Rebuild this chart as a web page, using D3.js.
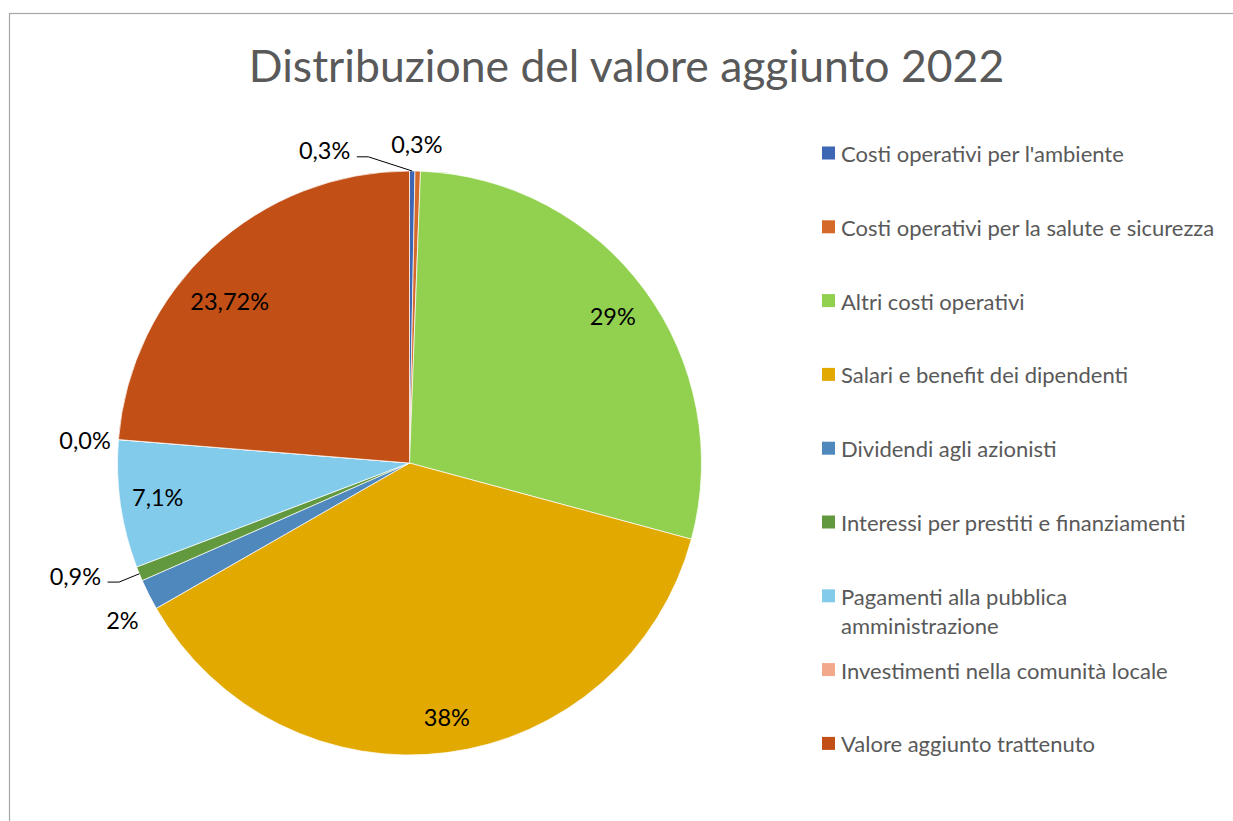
<!DOCTYPE html>
<html>
<head>
<meta charset="utf-8">
<script src="https://cdn.jsdelivr.net/npm/d3@7"></script>
<style>
  body { margin: 0; background: #fff; }
  svg { display: block; }
</style>
</head>
<body>
<div id="canvas"></div>
<script>
// slices, clockwise from 12 o'clock
const categories = [
  "Costi operativi per l'ambiente",
  'Costi operativi per la salute e sicurezza',
  'Altri costi operativi',
  'Salari e benefit dei dipendenti',
  'Dividendi agli azionisti',
  'Interessi per prestiti e finanziamenti',
  'Pagamenti alla pubblica amministrazione',
  'Investimenti nella comunità locale',
  'Valore aggiunto trattenuto'
];
const values = [0.3, 0.3, 28.6, 37.5, 1.7, 0.8, 7.07, 0, 23.72];
const valueLabels = ['0,3%', '0,3%', '29%', '38%', '2%', '0,9%', '7,1%', '0,0%', '23,72%'];
const colors = ['#3d66b5', '#d5692a', '#92d050', '#e2a900', '#4f88bd', '#62993e', '#83cbeb', '#f2a88a', '#c14f16'];

const W = 1233, H = 821;
const cx = 409.5, cy = 463, R = 292;
const font = 'Lato, Calibri, Carlito, sans-serif';

// where each value label sits: radius factor, angle shift (deg), leader line
const labelPlace = [
  {k: 1.058, da: -8.2, leader: true},
  {k: 1.093, da: -0.3},
  {k: 0.86, da: 0.4},
  {k: 0.88, da: -1.0},
  {k: 1.12, da: -1.8},
  {k: 1.075, da: 0, leader: true},
  {k: 0.87, da: 0.5},
  {k: 1.114, da: -0.55},
  {k: 0.83, da: -5.2}
];

const svg = d3.select('#canvas').append('svg')
  .attr('width', W)
  .attr('height', H);

// chart area border (only top and left are inside the picture)
svg.append('rect')
  .attr('x', 9.5).attr('y', 13.5)
  .attr('width', 1400).attr('height', 1000)
  .attr('fill', 'none')
  .attr('stroke', '#a6a6a6')
  .attr('stroke-width', 1.2);

svg.append('text')
  .text('Distribuzione del valore aggiunto 2022')
  .attr('x', 626.5)
  .attr('y', 82)
  .attr('text-anchor', 'middle')
  .attr('font-family', font)
  .attr('font-size', '44.5px')
  .attr('fill', '#595959');

const pie = d3.pie().sort(null).value(d => d);
const arcs = pie(values);
const arc = d3.arc().innerRadius(0).outerRadius(R);

const g = svg.append('g')
  .attr('transform', `translate(${cx}, ${cy})`);

g.selectAll('path')
  .data(arcs)
  .enter()
  .append('path')
  .attr('d', arc)
  .attr('fill', (d, i) => colors[i])
  .attr('stroke', '#fff')
  .attr('stroke-width', 0.7);

const polar = (a, r) => [r * Math.sin(a), -r * Math.cos(a)];
const rad = deg => deg * Math.PI / 180;

arcs.forEach((d, i) => {
  const p = labelPlace[i];
  const mid = (d.startAngle + d.endAngle) / 2;
  const pos = polar(mid + rad(p.da), R * p.k);
  if (p.leader) {
    const edge = polar(mid, R);
    const elbow = pos;
    g.append('polyline')
      .attr('points', [edge, elbow, [elbow[0] - 11.5, elbow[1]]].map(q => q.join(',')).join(' '))
      .attr('fill', 'none')
      .attr('stroke', '#000')
      .attr('stroke-width', 1);
    g.append('text')
      .text(valueLabels[i])
      .attr('x', elbow[0] - 18)
      .attr('y', elbow[1] - 6.5)
      .attr('text-anchor', 'end')
      .attr('dominant-baseline', 'central')
      .attr('font-family', font)
      .attr('font-size', '23.5px')
      .attr('fill', '#000');
  } else {
    g.append('text')
      .text(valueLabels[i])
      .attr('x', pos[0])
      .attr('y', pos[1])
      .attr('text-anchor', 'middle')
      .attr('dominant-baseline', 'central')
      .attr('font-family', font)
      .attr('font-size', '23.5px')
      .attr('fill', '#000');
  }
});

// legend
const yLegend = d3.scalePoint()
  .domain(categories)
  .range([153, 743.4]);

const legend = svg.append('g');
const maxW = 383;

categories.forEach((c, i) => {
  const y = yLegend(c);
  legend.append('rect')
    .attr('x', 822)
    .attr('y', y - 6.5)
    .attr('width', 13)
    .attr('height', 13)
    .attr('fill', colors[i]);
  const t = legend.append('text')
    .attr('x', 841)
    .attr('y', y)
    .attr('dominant-baseline', 'central')
    .attr('font-family', font)
    .attr('font-size', '22px')
    .attr('fill', '#595959');
  // simple word wrap
  const words = c.split(' ');
  let line = [];
  let tspan = t.append('tspan').attr('x', 841).attr('dy', 0);
  words.forEach(w => {
    line.push(w);
    tspan.text(line.join(' '));
    if (tspan.node().getComputedTextLength() > maxW && line.length > 1) {
      line.pop();
      tspan.text(line.join(' '));
      line = [w];
      tspan = t.append('tspan').attr('x', 841).attr('dy', 29).text(w);
    }
  });
});
</script>
</body>
</html>
